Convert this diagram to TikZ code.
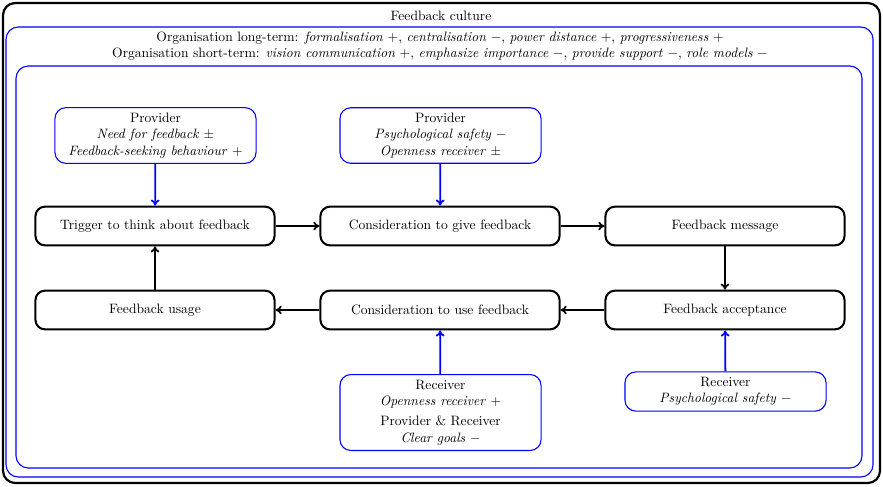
\documentclass[tikz,border=0pt]{standalone}
\usetikzlibrary{arrows.meta}
\begin{document}
\begin{tikzpicture}[x=0.736pt,y=-0.736pt,
  stepbox/.style={draw=black,line width=1.5pt,rounded corners=7pt,minimum width=176pt,minimum height=28.5pt,inner sep=2pt,fill=white},
  factor/.style={draw=blue,line width=0.8pt,rounded corners=8pt,minimum width=148pt,align=center,inner xsep=2pt,inner ysep=4pt,fill=white},
  flow/.style={-{To[length=4.5pt,width=6.5pt]},line width=1.3pt,black},
  bflow/.style={-{To[length=4.5pt,width=6.5pt]},line width=1.3pt,blue},
  frame/.style={rounded corners=9pt}]
\useasboundingbox (0,0) rectangle (883,486);
% containers
\draw[frame,line width=1.6pt,black] (3,3) rectangle (880,483);
\node (fc) at (441,16) {Feedback culture};
\draw[frame,line width=0.8pt,blue] (6,27) rectangle (873,477);
\node[align=center,inner sep=0pt] (org) at (440,46) {Organisation long-term: \textit{formalisation} $+$, \textit{centralisation} $-$, \textit{power distance} $+$, \textit{progressiveness} $+$\\
Organisation short-term: \textit{vision communication} $+$, \textit{emphasize importance} $-$, \textit{provide support} $-$, \textit{role models} $-$};
\draw[frame,line width=0.8pt,blue] (16,66) rectangle (862,468);
% process steps
\node[stepbox] (trig) at (155,226) {Trigger to think about feedback};
\node[stepbox] (give) at (440,226) {Consideration to give feedback};
\node[stepbox] (msg) at (725,226) {Feedback message};
\node[stepbox] (usage) at (155,310) {Feedback usage};
\node[stepbox] (use) at (440,310) {Consideration to use feedback};
\node[stepbox] (acc) at (725,310) {Feedback acceptance};
% factors
\node[factor] (p1) at (155.5,135.5) {Provider\\ \textit{Need for feedback} $\pm$\\ \textit{Feedback-seeking behaviour} $+$};
\node[factor] (p2) at (440.5,135.5) {Provider\\ \textit{Psychological safety} $-$\\ \textit{Openness receiver} $\pm$};
\node[factor] (r1) at (440.5,412.5) {Receiver\\ \textit{Openness receiver} $+$\\[3pt] Provider \& Receiver\\ \textit{Clear goals} $-$};
\node[factor] (r2) at (725.5,391.5) {Receiver\\ \textit{Psychological safety} $-$};
% connectors
\draw[flow] (trig) -- (give);
\draw[flow] (give) -- (msg);
\draw[flow] (msg) -- (acc);
\draw[flow] (acc) -- (use);
\draw[flow] (use) -- (usage);
\draw[flow] (usage) -- (trig);
\draw[bflow] (p1) -- (trig);
\draw[bflow] (p2) -- (give);
\draw[bflow] (r1) -- (use);
\draw[bflow] (r2) -- (acc);
\end{tikzpicture}
\end{document}
